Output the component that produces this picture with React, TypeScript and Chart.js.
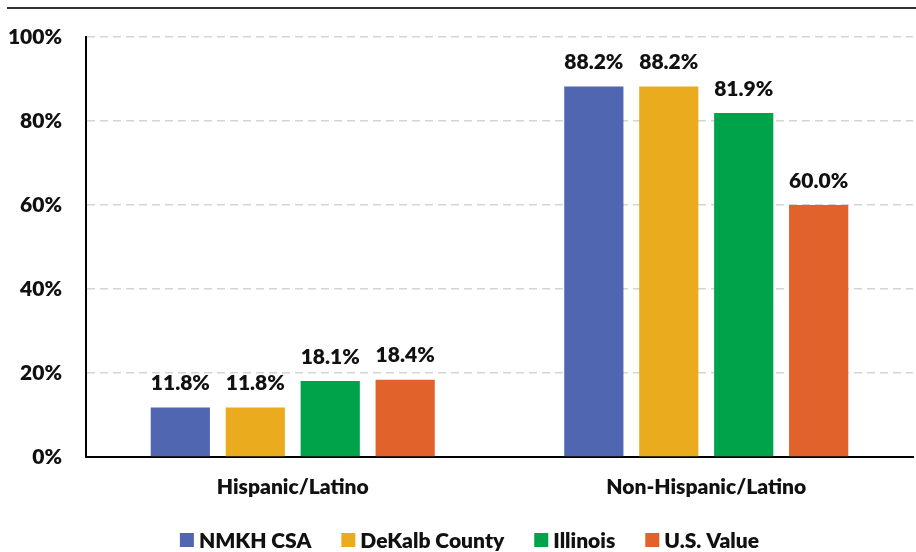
import React, { useEffect, useRef } from "react";
import { Chart, registerables } from "chart.js";

Chart.register(...registerables);

const categories = ["Hispanic/Latino", "Non-Hispanic/Latino"];
const seriesNames = ["NMKH CSA", "DeKalb County", "Illinois", "U.S. Value"];
const nmkh = [11.8, 88.2];
const dekalb = [11.8, 88.2];
const illinois = [18.1, 81.9];
const usValue = [18.4, 60.0];
const colors = ["#5166B0", "#EAAC1E", "#00A34A", "#E1622A"];
const yTicks = [0, 20, 40, 60, 80, 100];

const FONT = "Lato";
const FS = 21;
const FW = "800";

const topRule = {
  id: "topRule",
  afterDraw(chart: any) {
    const ctx = chart.ctx;
    ctx.save();
    ctx.strokeStyle = "#333333";
    ctx.lineWidth = 2;
    ctx.beginPath();
    ctx.moveTo(7, 8);
    ctx.lineTo(916, 8);
    ctx.stroke();
    ctx.restore();
  },
};

const dataLabels = {
  id: "dataLabels",
  afterDatasetsDraw(chart: any) {
    const ctx = chart.ctx;
    ctx.save();
    ctx.font = `${FW} ${FS}px ${FONT}`;
    ctx.fillStyle = "#111111";
    ctx.textAlign = "center";
    ctx.textBaseline = "middle";
    chart.data.datasets.forEach((ds: any, i: number) => {
      const meta = chart.getDatasetMeta(i);
      meta.data.forEach((bar: any, j: number) => {
        const v = ds.data[j] as number;
        ctx.fillText(v.toFixed(1) + "%", bar.x, bar.y - 24);
      });
    });
    ctx.restore();
  },
};

const customLegend = {
  id: "customLegend",
  afterDraw(chart: any) {
    const ctx = chart.ctx;
    ctx.save();
    ctx.font = `${FW} ${FS}px ${FONT}`;
    ctx.textBaseline = "middle";
    ctx.textAlign = "left";
    const box = 14;
    const gapText = 5;
    const gapItem = 30;
    const items = chart.data.datasets.map((ds: any) => ({
      label: ds.label,
      color: ds.backgroundColor,
      w: ctx.measureText(ds.label).width,
    }));
    const total =
      items.reduce((s: number, it: any) => s + box + gapText + it.w, 0) +
      gapItem * (items.length - 1);
    let x = 469.5 - total / 2;
    const cy = 540;
    items.forEach((it: any) => {
      ctx.fillStyle = it.color;
      ctx.fillRect(x, cy - box / 2, box, box);
      x += box + gapText;
      ctx.fillStyle = "#111111";
      ctx.fillText(it.label, x, cy + 1);
      x += it.w + gapItem;
    });
    ctx.restore();
  },
};

export default function App() {
  const ref = useRef<HTMLCanvasElement>(null);
  useEffect(() => {
    if (!ref.current) return;
    const seriesData = [nmkh, dekalb, illinois, usValue];
    const chart = new Chart(ref.current, {
      type: "bar",
      data: {
        labels: categories,
        datasets: seriesNames.map((name, i) => ({
          label: name,
          data: seriesData[i],
          backgroundColor: colors[i],
          borderWidth: 0,
          categoryPercentage: 0.725,
          barPercentage: 0.79,
        })),
      },
      options: {
        animation: false,
        responsive: false,
        maintainAspectRatio: false,
        layout: { padding: { top: 37, right: 3, left: 0, bottom: 0 } },
        plugins: {
          legend: { display: false },
          tooltip: { enabled: false },
        },
        scales: {
          x: {
            grid: { display: false, drawTicks: false },
            border: { display: true, color: "#000000", width: 2 },
            ticks: {
              color: "#111111",
              font: { family: FONT, size: FS, weight: FW },
              padding: 18,
            },
            afterFit(scale: any) {
              scale.height = 95;
            },
          },
          y: {
            min: 0,
            max: 100,
            afterBuildTicks(scale: any) {
              scale.ticks = yTicks.map((v) => ({ value: v }));
            },
            grid: {
              color: "#d4d4d4",
              lineWidth: 1.5,
              drawTicks: false,
            },
            border: { display: true, color: "#000000", width: 2 },
            ticks: {
              color: "#111111",
              font: { family: FONT, size: FS, weight: FW },
              padding: 24,
              callback: (v: any) => v + "%",
            },
            afterFit(scale: any) {
              scale.width = 86;
            },
          },
        },
      },
      plugins: [topRule, dataLabels, customLegend],
    });
    (chart.options.scales as any).y.grid.borderDash = [8, 5];
    (chart.options.scales as any).y.border.dash = [8, 5];
    chart.update();
    return () => chart.destroy();
  }, []);
  return (
    <div style={{ position: "absolute", left: 0, top: 0, width: 916, height: 552, background: "#fff" }}>
      <canvas ref={ref} width={916} height={552} />
    </div>
  );
}
